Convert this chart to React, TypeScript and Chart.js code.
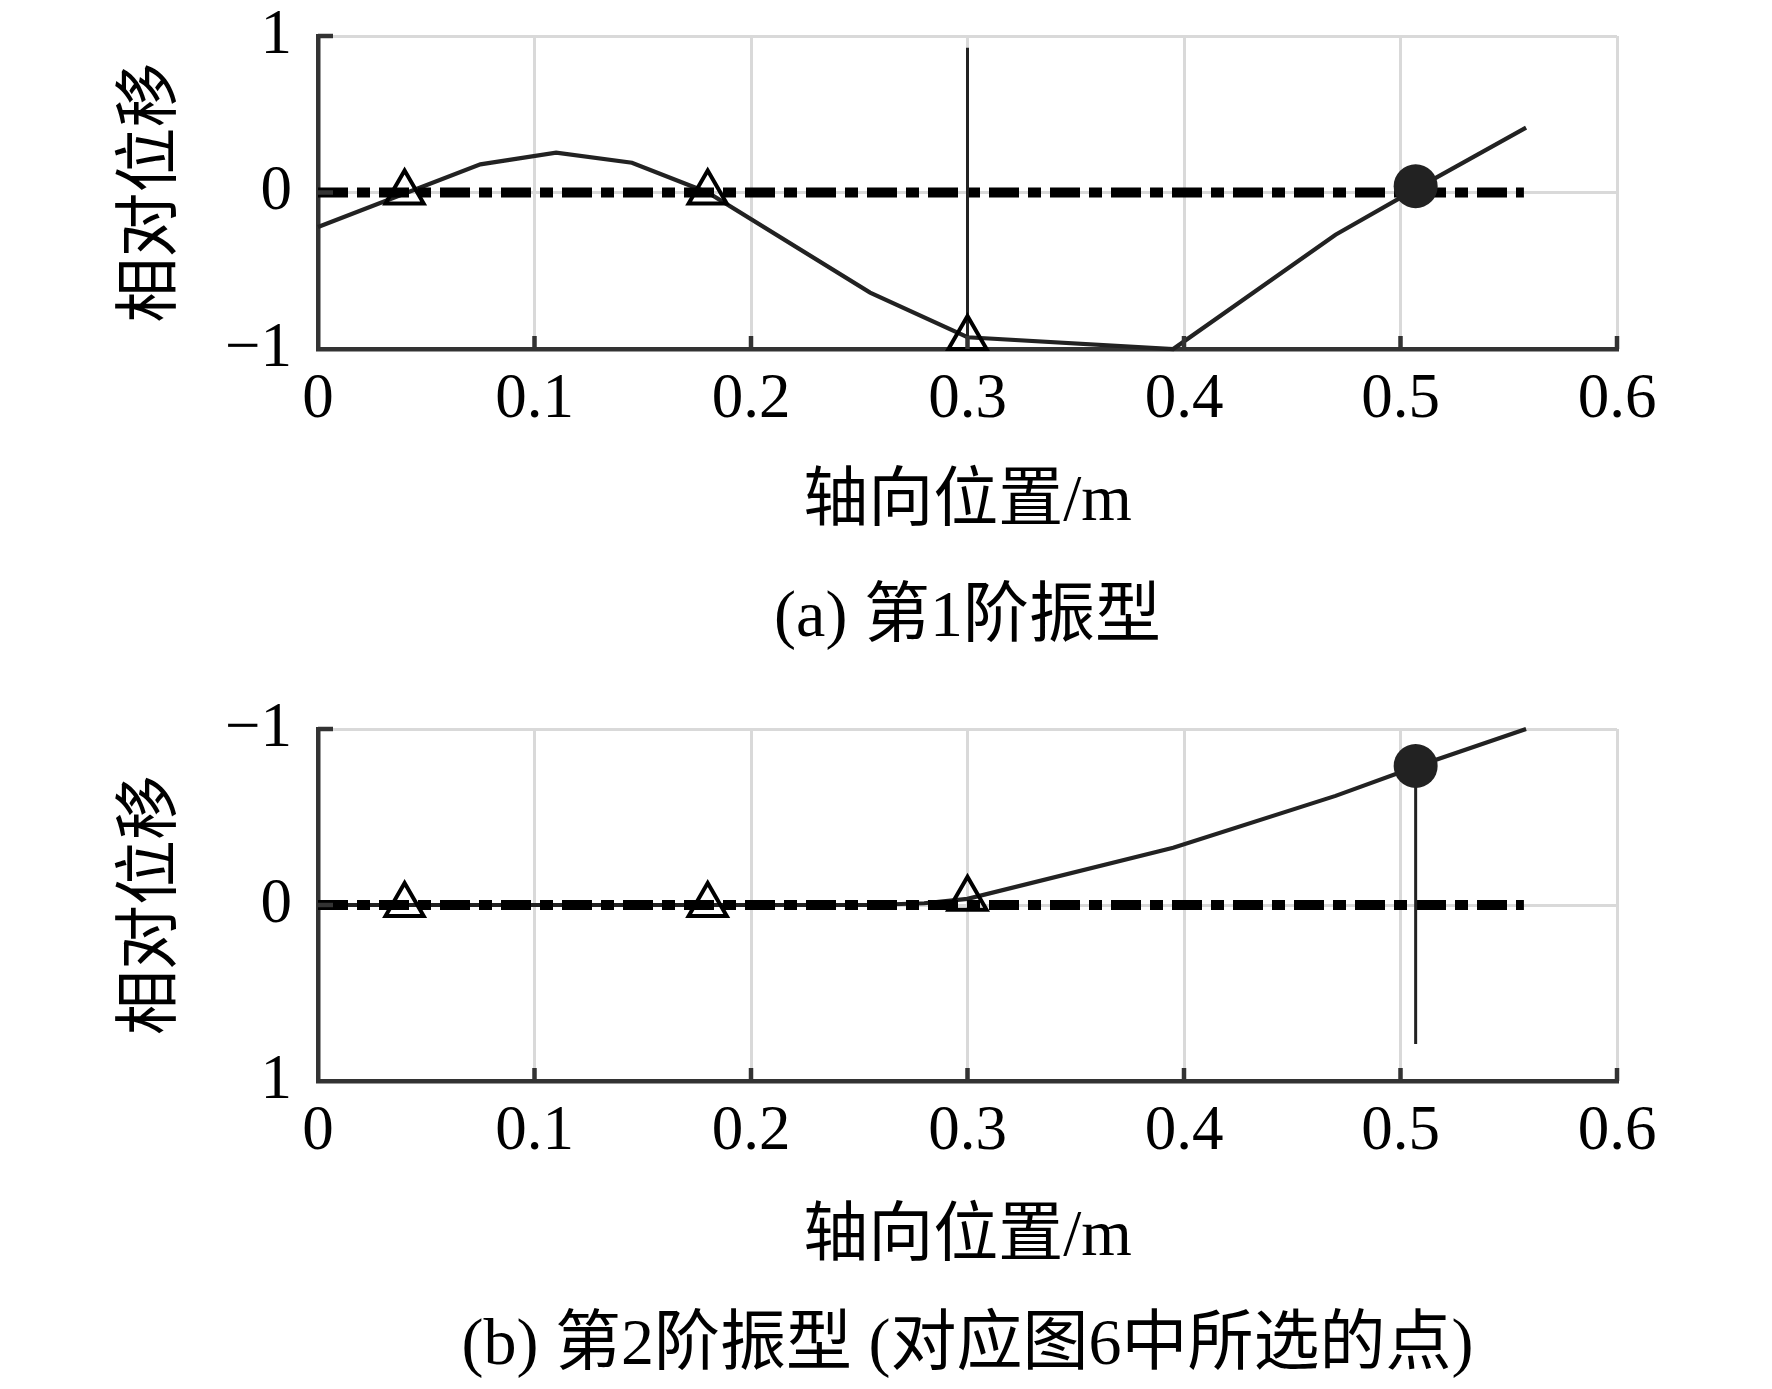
import React, { useEffect, useRef } from "react";
import { Chart, registerables } from "chart.js";

Chart.register(...registerables);

// ---------- data ----------
const xTickValues = [0, 0.1, 0.2, 0.3, 0.4, 0.5, 0.6];
const yTickValues = [-1, 0, 1];

// (a) mode 1
const mode1X = [0, 0.075, 0.11, 0.145, 0.18, 0.255, 0.3, 0.395, 0.47, 0.508, 0.558];
const mode1Y = [-0.22, 0.18, 0.255, 0.19, 0.0, -0.64, -0.925, -1.0, -0.27, 0.03, 0.415];
const mode1TriX = [0.04, 0.18, 0.3];
const mode1TriY = [0, 0, -0.93];
const mode1DotX = [0.507];
const mode1DotY = [0.04];
const mode1VLineX = [0.3, 0.3];
const mode1VLineY = [0.925, -1];

// (b) mode 2
const mode2X = [0, 0.075, 0.11, 0.145, 0.18, 0.255, 0.28, 0.3, 0.395, 0.47, 0.508, 0.558];
const mode2Y = [0, 0, 0, 0, 0, 0, -0.01, -0.035, -0.325, -0.62, -0.79, -1.0];
const mode2TriX = [0.04, 0.18, 0.3];
const mode2TriY = [0, 0, -0.035];
const mode2DotX = [0.507];
const mode2DotY = [-0.79];
const mode2VLineX = [0.507, 0.507];
const mode2VLineY = [-0.79, 0.79];

// zero reference (dash-dot)
const refX = [0, 0.557];
const refY = [0, 0];

const xTitle = "轴向位置/m";
const yTitle = "相对位移";
const captionA = "(a) 第1阶振型";
const captionB = "(b) 第2阶振型 (对应图6中所选的点)";

const SERIF = '"Liberation Serif", "Times New Roman", "Noto Sans CJK SC", serif';

const pts = (xs: number[], ys: number[]) => xs.map((x, i) => ({ x, y: ys[i] }));

const insideTicks = {
  id: "insideTicks",
  afterDraw(chart: any, _args: any, opts: any) {
    const { ctx, chartArea, scales } = chart;
    const xs = scales.x;
    const ys = scales.y;
    ctx.save();
    ctx.strokeStyle = "#333";
    ctx.lineWidth = 4.5;
    ctx.lineCap = "butt";
    xs.ticks.forEach((t: any) => {
      const px = xs.getPixelForValue(t.value);
      if (Math.abs(px - chartArea.left) < 1) return;
      ctx.beginPath();
      ctx.moveTo(px, chartArea.bottom);
      ctx.lineTo(px, chartArea.bottom - 13);
      ctx.stroke();
    });
    ys.ticks.forEach((t: any) => {
      const py = ys.getPixelForValue(t.value);
      if (Math.abs(py - chartArea.bottom) < 1) return;
      ctx.beginPath();
      ctx.moveTo(chartArea.left, py);
      ctx.lineTo(chartArea.left + 15, py);
      ctx.stroke();
    });
    if (opts && opts.text) {
      ctx.fillStyle = "#000";
      ctx.font = `66px ${SERIF}`;
      ctx.textAlign = "center";
      ctx.textBaseline = "middle";
      ctx.fillText(opts.text, (chartArea.left + chartArea.right) / 2, chartArea.bottom + opts.offset);
    }
    ctx.restore();
  },
};

type Cfg = {
  curveX: number[];
  curveY: number[];
  triX: number[];
  triY: number[];
  dotX: number[];
  dotY: number[];
  vX: number[];
  vY: number[];
  reverse: boolean;
  height: number;
  padTop: number;
  xHeight: number;
  xTitlePad: number;
  caption: string;
  captionOffset: number;
};

function makeConfig(c: Cfg): any {
  return {
    type: "line",
    data: {
      datasets: [
        {
          label: "tri",
          data: pts(c.triX, c.triY),
          showLine: false,
          pointStyle: "triangle",
          pointRadius: 22,
          pointBorderWidth: 4,
          pointBorderColor: "#000",
          pointBackgroundColor: "rgba(0,0,0,0)",
          clip: false,
        },
        {
          label: "dot",
          data: pts(c.dotX, c.dotY),
          showLine: false,
          pointStyle: "circle",
          pointRadius: 22,
          pointBorderWidth: 0,
          pointBorderColor: "#222",
          pointBackgroundColor: "#222",
          clip: false,
        },
        {
          label: "vline",
          data: pts(c.vX, c.vY),
          borderColor: "#222",
          borderWidth: 3,
          pointRadius: 0,
          clip: false,
        },
        {
          label: "ref",
          data: pts(refX, refY),
          borderColor: "#000",
          borderWidth: 10,
          borderDash: [30, 9, 13, 9],
          borderCapStyle: "butt",
          pointRadius: 0,
          clip: false,
        },
        {
          label: "curve",
          data: pts(c.curveX, c.curveY),
          borderColor: "#222",
          borderWidth: 4.2,
          pointRadius: 0,
          tension: 0,
          clip: false,
        },
      ],
    },
    options: {
      animation: false,
      responsive: false,
      devicePixelRatio: 1,
      events: [],
      layout: { padding: { top: c.padTop, right: 155, bottom: 0, left: 0 } },
      plugins: {
        legend: { display: false },
        tooltip: { enabled: false },
        insideTicks: { text: c.caption, offset: c.captionOffset },
      },
      scales: {
        x: {
          type: "linear",
          min: 0,
          max: 0.6,
          afterBuildTicks: (s: any) => {
            s.ticks = xTickValues.map((v) => ({ value: v }));
          },
          afterFit: (s: any) => {
            s.height = c.xHeight;
          },
          ticks: {
            color: "#000",
            font: { family: SERIF, size: 63, lineHeight: 1 },
            padding: 20,
            maxRotation: 0,
            autoSkip: false,
            callback: (v: number) => (v === 0 ? "0" : Number(v).toFixed(1)),
          },
          grid: { color: "#d9d9d9", lineWidth: 3, drawTicks: false },
          border: { display: true, color: "#333", width: 4.5 },
          title: {
            display: true,
            text: xTitle,
            color: "#000",
            font: { family: SERIF, size: 65, lineHeight: 1.2 },
            padding: { top: 0, bottom: c.xTitlePad },
          },
        },
        y: {
          type: "linear",
          min: -1,
          max: 1,
          reverse: c.reverse,
          afterBuildTicks: (s: any) => {
            s.ticks = yTickValues.map((v) => ({ value: v }));
          },
          afterFit: (s: any) => {
            s.width = 318;
            s.paddingTop = 0;
            s.paddingBottom = 0;
          },
          ticks: {
            color: "#000",
            font: { family: SERIF, size: 63, lineHeight: 1 },
            padding: 26,
            callback: (v: number) => (v < 0 ? "\u2212" + Math.abs(v) : String(v)),
          },
          grid: { color: "#d9d9d9", lineWidth: 3, drawTicks: false },
          border: { display: true, color: "#333", width: 4.5 },
          title: {
            display: true,
            text: yTitle,
            color: "#000",
            font: { family: SERIF, size: 65, lineHeight: 1.2 },
            padding: { top: 114, bottom: 0 },
          },
        },
      },
    },
    plugins: [insideTicks],
  };
}

function ChartPanel({ cfg, top }: { cfg: Cfg; top: number }) {
  const ref = useRef<HTMLCanvasElement | null>(null);
  useEffect(() => {
    if (!ref.current) return;
    const chart = new Chart(ref.current, makeConfig(cfg));
    return () => chart.destroy();
  }, []);
  return (
    <canvas
      ref={ref}
      width={1772}
      height={cfg.height}
      style={{ position: "absolute", left: 0, top, width: 1772, height: cfg.height, display: "block" }}
    />
  );
}

const cfgA: Cfg = {
  curveX: mode1X,
  curveY: mode1Y,
  triX: mode1TriX,
  triY: mode1TriY,
  dotX: mode1DotX,
  dotY: mode1DotY,
  vX: mode1VLineX,
  vY: mode1VLineY,
  reverse: false,
  height: 680,
  padTop: 36,
  xHeight: 331,
  xTitlePad: 138,
  caption: captionA,
  captionOffset: 270,
};

const cfgB: Cfg = {
  curveX: mode2X,
  curveY: mode2Y,
  triX: mode2TriX,
  triY: mode2TriY,
  dotX: mode2DotX,
  dotY: mode2DotY,
  vX: mode2VLineX,
  vY: mode2VLineY,
  reverse: true,
  height: 709,
  padTop: 49,
  xHeight: 308,
  xTitlePad: 112,
  caption: captionB,
  captionOffset: 266,
};

export default function App() {
  return (
    <div style={{ position: "absolute", left: 0, top: 0, width: 1772, height: 1389, background: "#fff" }}>
      <ChartPanel cfg={cfgA} top={0} />
      <ChartPanel cfg={cfgB} top={680} />
    </div>
  );
}
